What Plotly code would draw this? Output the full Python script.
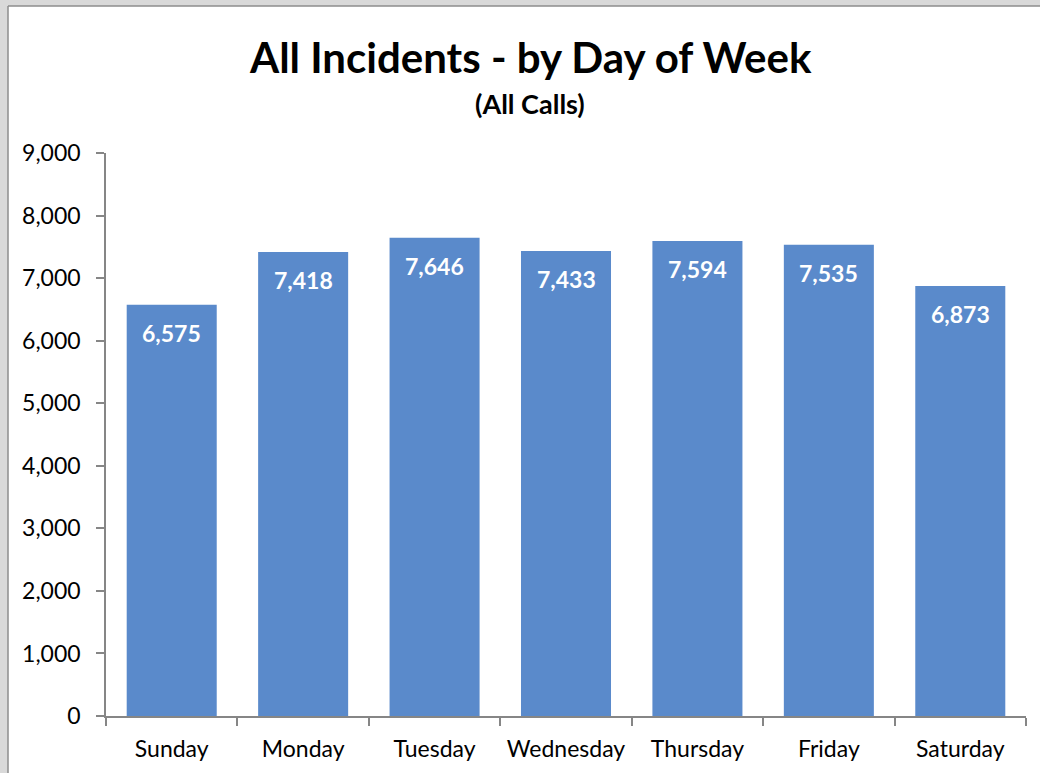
import plotly.graph_objects as go

days = ["Sunday", "Monday", "Tuesday", "Wednesday", "Thursday", "Friday", "Saturday"]
incidents = [6575, 7418, 7646, 7433, 7594, 7535, 6873]
y_ticks = list(range(0, 9001, 1000))

W, H = 1040, 773
L, R, T, B = 106, 14, 153, 57
PW, PH = W - L - R, H - T - B

FONT = "Lato"
BAR = "#5A8ACB"
AXIS = "#868686"


def px_x(px):
    return (px - L) / PW


def px_y(py):
    return 1 - (py - T) / PH


fig = go.Figure()
fig.add_trace(
    go.Bar(
        x=days,
        y=incidents,
        marker_color=BAR,
        marker_line_width=0,
        hoverinfo="x+y",
    )
)

# data labels inside the top of each bar
for d, v in zip(days, incidents):
    fig.add_annotation(
        x=d, y=v, text=f"<b>{v:,}</b>", showarrow=False,
        yanchor="middle", yshift=-28,
        font={"family": FONT, "size": 23, "color": "white"},
    )

# grey window frame at top-left
frame = "#d9d9d9"
fig.add_shape(type="rect", xref="paper", yref="paper",
              x0=px_x(0), x1=px_x(8), y0=px_y(H), y1=px_y(0),
              fillcolor=frame, line_width=0, layer="below")
fig.add_shape(type="rect", xref="paper", yref="paper",
              x0=px_x(0), x1=px_x(W), y0=px_y(6), y1=px_y(0),
              fillcolor=frame, line_width=0, layer="below")
fig.add_shape(type="line", xref="paper", yref="paper",
              x0=px_x(8), x1=px_x(8), y0=px_y(H), y1=px_y(6),
              line={"color": "#8c8c8c", "width": 1.5})
fig.add_shape(type="line", xref="paper", yref="paper",
              x0=px_x(8), x1=px_x(W), y0=px_y(6), y1=px_y(6),
              line={"color": "#8c8c8c", "width": 1.5})

fig.add_annotation(
    text="<b>All Incidents - by Day of Week</b>", xref="paper", yref="paper",
    x=px_x(530), y=px_y(57), showarrow=False, yanchor="middle",
    font={"family": FONT, "size": 42, "color": "black"},
)
fig.add_annotation(
    text="<b>(All Calls)</b>", xref="paper", yref="paper",
    x=px_x(530), y=px_y(103), showarrow=False, yanchor="middle",
    font={"family": FONT, "size": 27, "color": "black"},
)

fig.update_layout(
    width=W, height=H,
    margin={"l": L, "r": R, "t": T, "b": B, "pad": 0},
    paper_bgcolor="white",
    plot_bgcolor="white",
    bargap=0.315,
    showlegend=False,
    font={"family": FONT, "size": 23, "color": "black"},
)
fig.update_xaxes(
    showline=True, linecolor=AXIS, linewidth=1.5,
    ticks="outside", tickson="boundaries", ticklen=8, tickcolor=AXIS, tickwidth=1.5,
    ticklabelstandoff=12,
    showgrid=False, tickfont={"size": 23},
)
fig.update_yaxes(
    range=[0, 9000], tickvals=y_ticks, tickformat=",",
    showline=True, linecolor=AXIS, linewidth=1.5,
    ticks="outside", ticklen=8, tickcolor=AXIS, tickwidth=1.5,
    ticklabelstandoff=11,
    showgrid=False, zeroline=False, tickfont={"size": 23},
)

fig.write_html(
    "out.html",
    config={"displayModeBar": False},
    post_script="document.body.style.margin='0';document.body.style.overflow='hidden';",
)
